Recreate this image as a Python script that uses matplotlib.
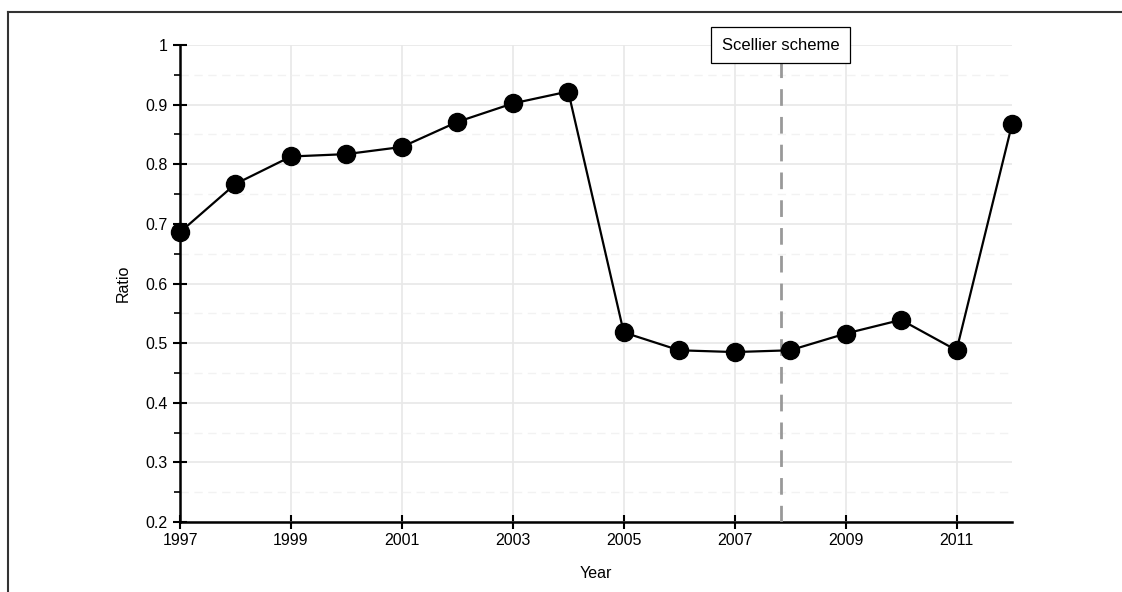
import matplotlib
matplotlib.use("Agg")
import matplotlib.pyplot as plt
from matplotlib.lines import Line2D
from matplotlib.ticker import MultipleLocator

plt.rcParams['font.family'] = ['Liberation Sans', 'DejaVu Sans']

years = [1997, 1998, 1999, 2000, 2001, 2002, 2003, 2004,
         2005, 2006, 2007, 2008, 2009, 2010, 2011, 2012]
ratio = [0.686, 0.767, 0.813, 0.817, 0.829, 0.871, 0.902, 0.922,
         0.518, 0.488, 0.485, 0.488, 0.516, 0.539, 0.488, 0.867]
scheme_year = 2007.83
scheme_label = "Scellier scheme"
ytick_vals = [0.2, 0.3, 0.4, 0.5, 0.6, 0.7, 0.8, 0.9, 1.0]
ytick_labels = ['0.2', '0.3', '0.4', '0.5', '0.6', '0.7', '0.8', '0.9', '1']

W, H = 1122, 592
fig = plt.figure(figsize=(W / 100, H / 100), dpi=100)
ax = fig.add_axes([180 / W, 1 - 522 / H, (1012 - 180) / W, (522 - 45) / H])

# grid
ax.set_axisbelow(True)
ax.grid(which='major', color='#e8e8e8', linewidth=1.2)
ax.yaxis.grid(which='minor', color='#f2f2f2', linewidth=1.0, linestyle=(0, (6, 4)))

ax.plot(years, ratio, color='black', linewidth=1.6, marker='o', markersize=13,
        markerfacecolor='black', zorder=5, clip_on=False)

ax.axvline(scheme_year, color='#999999', linewidth=2, linestyle=(0, (6, 4)), zorder=3)
ax.text(scheme_year, 1.0, scheme_label, ha='center', va='center', fontsize=12,
        bbox=dict(boxstyle='square,pad=0.65', facecolor='white', edgecolor='black', linewidth=0.9),
        zorder=6)

ax.set_xlim(1997, 2012)
ax.set_ylim(0.2, 1.0)
ax.set_xticks(range(1997, 2013, 2))
ax.set_yticks(ytick_vals)
ax.set_yticklabels(ytick_labels)
ax.yaxis.set_minor_locator(MultipleLocator(0.05))

for s in ['top', 'right']:
    ax.spines[s].set_visible(False)
for s in ['left', 'bottom']:
    ax.spines[s].set_linewidth(1.8)

ax.tick_params(axis='y', which='major', direction='inout', length=10, width=1.5, labelsize=11.5, pad=4)
ax.tick_params(axis='y', which='minor', direction='out', length=4, width=1.2)
ax.tick_params(axis='x', which='major', direction='inout', length=10, width=1.5, labelsize=11.5, pad=3)

ax.set_xlabel('Year', fontsize=11.5, labelpad=13)
ax.set_ylabel('Ratio', fontsize=11.5, labelpad=10)

# figure border on top and left
fig.add_artist(Line2D([7.5 / W, 7.5 / W], [0, 1 - 11.5 / H], color='#333333', linewidth=1.5))
fig.add_artist(Line2D([7.5 / W, 1], [1 - 11.5 / H, 1 - 11.5 / H], color='#333333', linewidth=1.5))

fig.savefig('out.png', dpi=100, facecolor='white')
